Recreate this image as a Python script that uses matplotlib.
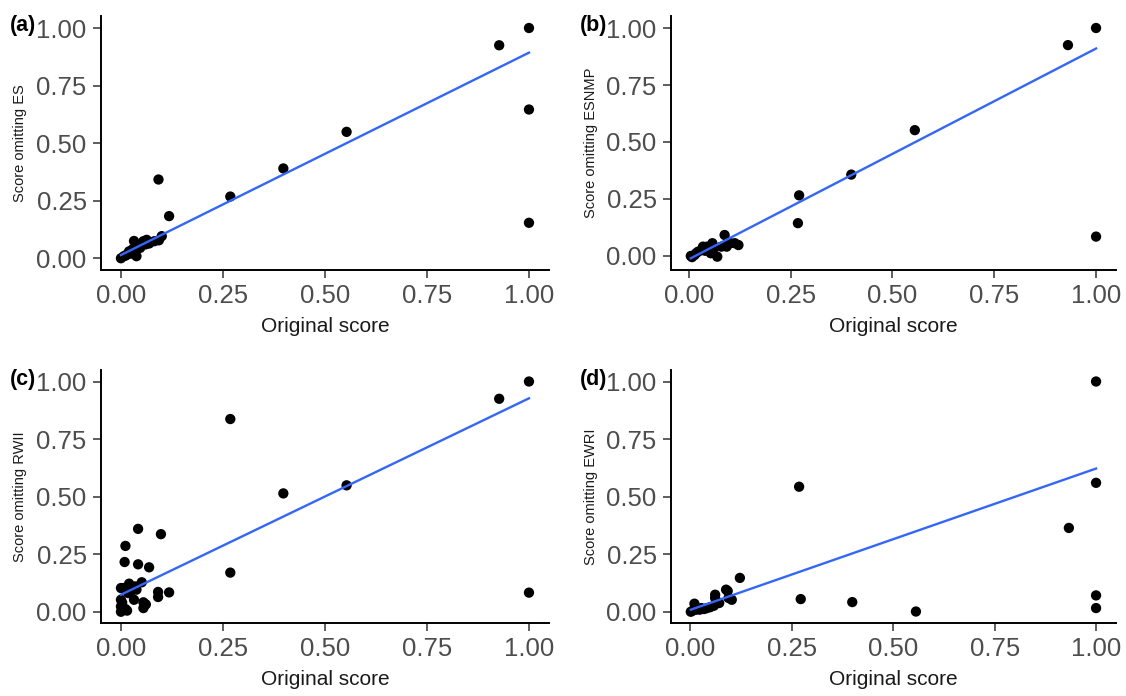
import matplotlib
matplotlib.use("Agg")
import matplotlib.pyplot as plt

plt.rcParams['font.family'] = ['Liberation Sans', 'DejaVu Sans']

# panel (a): omitting ES
xa = [0.000, 0.007, 0.012, 0.016, 0.020, 0.025, 0.029, 0.032, 0.038, 0.042, 0.047,
      0.055, 0.060, 0.063, 0.069, 0.082, 0.092, 0.093, 0.100, 0.118, 0.268, 0.398,
      0.553, 0.927, 1.000, 1.000, 1.000]
ya = [0.000, 0.009, 0.012, 0.019, 0.030, 0.020, 0.040, 0.075, 0.009, 0.055, 0.045,
      0.074, 0.060, 0.080, 0.064, 0.074, 0.342, 0.078, 0.096, 0.183, 0.268, 0.390,
      0.549, 0.925, 1.000, 0.646, 0.154]
trend_xa = [0.000, 1.000]
trend_ya = [0.014, 0.893]

# panel (b): omitting ESNMP
xb = [0.005, 0.008, 0.014, 0.018, 0.023, 0.032, 0.035, 0.040, 0.045, 0.054, 0.058,
      0.062, 0.070, 0.080, 0.088, 0.093, 0.096, 0.102, 0.113, 0.122, 0.268, 0.271,
      0.399, 0.555, 0.931, 1.000, 1.000]
yb = [0.000, -0.005, 0.004, 0.012, 0.019, 0.026, 0.041, 0.023, 0.041, 0.012, 0.056,
      0.034, -0.003, 0.041, 0.092, 0.041, 0.063, 0.056, 0.056, 0.048, 0.144, 0.266,
      0.357, 0.552, 0.925, 1.000, 0.085]
trend_xb = [0.005, 1.000]
trend_yb = [-0.010, 0.910]

# panel (c): omitting RWII
xc = [0.000, 0.000, 0.000, 0.000, 0.003, 0.007, 0.009, 0.011, 0.011, 0.015, 0.018,
      0.020, 0.025, 0.032, 0.035, 0.038, 0.042, 0.042, 0.051, 0.055, 0.055, 0.061,
      0.069, 0.091, 0.091, 0.098, 0.118, 0.268, 0.268, 0.398, 0.553, 0.927, 1.000,
      1.000]
yc = [0.000, 0.023, 0.052, 0.103, 0.040, 0.103, 0.216, 0.012, 0.286, 0.005, 0.081,
      0.122, 0.090, 0.052, 0.110, 0.096, 0.206, 0.360, 0.128, 0.041, 0.016, 0.032,
      0.193, 0.086, 0.064, 0.337, 0.084, 0.837, 0.170, 0.514, 0.549, 0.925, 1.000,
      0.083]
trend_xc = [0.000, 1.000]
trend_yc = [0.074, 0.927]

# panel (d): omitting EWRI
xd = [0.001, 0.006, 0.010, 0.014, 0.023, 0.027, 0.034, 0.041, 0.049, 0.058, 0.061,
      0.061, 0.071, 0.088, 0.092, 0.094, 0.102, 0.122, 0.268, 0.272, 0.399, 0.556,
      0.933, 1.000, 1.000, 1.000, 1.000]
yd = [0.000, 0.005, 0.035, 0.009, 0.009, 0.016, 0.012, 0.016, 0.020, 0.026, 0.074,
      0.060, 0.038, 0.096, 0.090, 0.060, 0.052, 0.147, 0.543, 0.055, 0.042, 0.001,
      0.364, 1.000, 0.560, 0.071, 0.016]
trend_xd = [0.001, 1.000]
trend_yd = [0.009, 0.622]

panels = [
    ('(a)', 'Score omitting ES', xa, ya, trend_xa, trend_ya),
    ('(b)', 'Score omitting ESNMP', xb, yb, trend_xb, trend_yb),
    ('(c)', 'Score omitting RWII', xc, yc, trend_xc, trend_yc),
    ('(d)', 'Score omitting EWRI', xd, yd, trend_xd, trend_yd),
]

# axes boxes in figure fractions (left, bottom, width, height)
boxes = [
    [0.0893, 0.6124, 0.3986, 0.3639],
    [0.5955, 0.6124, 0.3959, 0.3639],
    [0.0893, 0.1045, 0.3986, 0.3639],
    [0.5955, 0.1045, 0.3959, 0.3639],
]
ticks = [0.0, 0.25, 0.5, 0.75, 1.0]
tick_labels = ['0.00', '0.25', '0.50', '0.75', '1.00']

fig = plt.figure(figsize=(11.26, 6.96), dpi=100)

for (tag, ylab, x, y, tx, ty), box in zip(panels, boxes):
    ax = fig.add_axes(box)
    ax.scatter(x, y, s=55, color='black', edgecolors='none', zorder=2)
    ax.plot(tx, ty, color='#3366FF', linewidth=1.7, zorder=3)

    # ggplot style 5% expansion
    xlo, xhi = min(x + tx), max(x + tx)
    ylo, yhi = min(y + ty), max(y + ty)
    ax.set_xlim(xlo - 0.05 * (xhi - xlo), xhi + 0.05 * (xhi - xlo))
    ax.set_ylim(ylo - 0.05 * (yhi - ylo), yhi + 0.05 * (yhi - ylo))

    ax.set_xticks(ticks)
    ax.set_xticklabels(tick_labels)
    ax.set_yticks(ticks)
    ax.set_yticklabels(tick_labels)
    ax.tick_params(axis='both', length=6, width=1.1, color='#333333',
                   labelsize=18.5, labelcolor='#4D4D4D', pad=4)

    for side in ['top', 'right']:
        ax.spines[side].set_visible(False)
    for side in ['left', 'bottom']:
        ax.spines[side].set_linewidth(1.4)
        ax.spines[side].set_color('black')

    ax.set_xlabel('Original score', fontsize=15, color='#1a1a1a')
    ax.set_ylabel(ylab, fontsize=10.5, color='#1a1a1a')
    ax.xaxis.set_label_coords(0.5, -0.185)
    ax.yaxis.set_label_coords(-0.163, 0.5)

    # panel tag in the top left corner
    bx = box[0] - 0.0893 + 0.009
    by = box[1] + box[3] + 0.002
    fig.text(bx, by, tag, fontsize=15.5, fontweight='bold', ha='left', va='top')

fig.savefig('out.png', dpi=100)
